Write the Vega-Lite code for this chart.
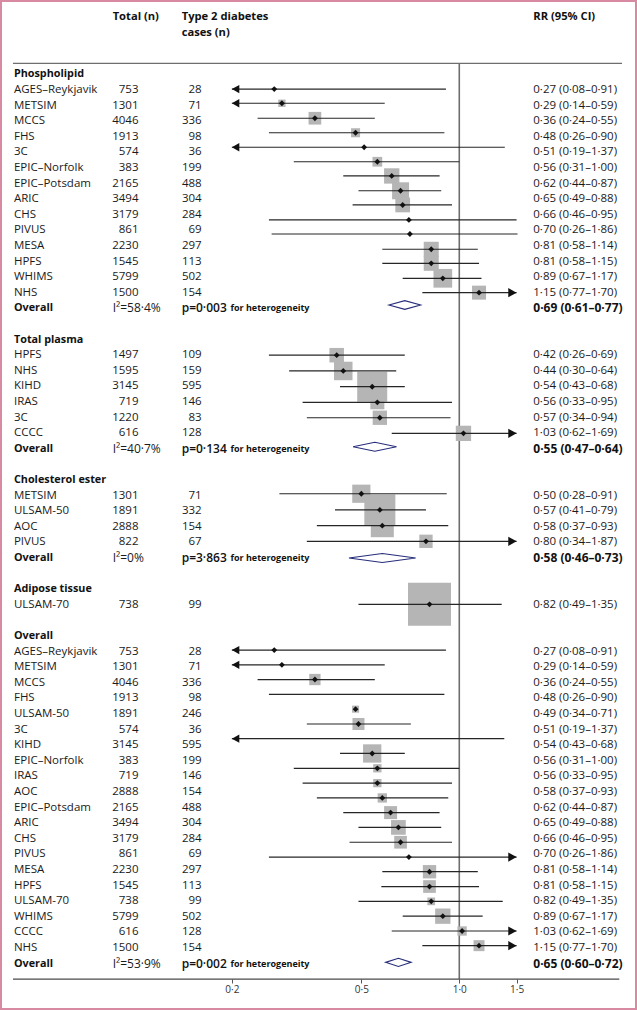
{
"$schema": "https://vega.github.io/schema/vega-lite/v6.json",
"width": 637, "height": 1010,
"autosize": {"type": "none"},
"padding": 0,
"background": "white",
"config": {"view": {"stroke": "#d98aa3", "strokeWidth": 4}, "font": "Open Sans", "axisX": {"grid": false, "domain": false}},
"datasets": {
"table": [
{"row":0,"t":"sec","name":"Phospholipid"},
{"row":1,"t":"study","name":"AGES–Reykjavik","total":"753","cases":"28","rr":"0·27 (0·08–0·91)"},
{"row":2,"t":"study","name":"METSIM","total":"1301","cases":"71","rr":"0·29 (0·14–0·59)"},
{"row":3,"t":"study","name":"MCCS","total":"4046","cases":"336","rr":"0·36 (0·24–0·55)"},
{"row":4,"t":"study","name":"FHS","total":"1913","cases":"98","rr":"0·48 (0·26–0·90)"},
{"row":5,"t":"study","name":"3C","total":"574","cases":"36","rr":"0·51 (0·19–1·37)"},
{"row":6,"t":"study","name":"EPIC–Norfolk","total":"383","cases":"199","rr":"0·56 (0·31–1·00)"},
{"row":7,"t":"study","name":"EPIC–Potsdam","total":"2165","cases":"488","rr":"0·62 (0·44–0·87)"},
{"row":8,"t":"study","name":"ARIC","total":"3494","cases":"304","rr":"0·65 (0·49–0·88)"},
{"row":9,"t":"study","name":"CHS","total":"3179","cases":"284","rr":"0·66 (0·46–0·95)"},
{"row":10,"t":"study","name":"PIVUS","total":"861","cases":"69","rr":"0·70 (0·26–1·86)"},
{"row":11,"t":"study","name":"MESA","total":"2230","cases":"297","rr":"0·81 (0·58–1·14)"},
{"row":12,"t":"study","name":"HPFS","total":"1545","cases":"113","rr":"0·81 (0·58–1·15)"},
{"row":13,"t":"study","name":"WHIMS","total":"5799","cases":"502","rr":"0·89 (0·67–1·17)"},
{"row":14,"t":"study","name":"NHS","total":"1500","cases":"154","rr":"1·15 (0·77–1·70)"},
{"row":15,"t":"pool","name":"Overall","i2":"I²=58·4%","p":"p=0·003","rr":"0·69 (0·61–0·77)"},
{"row":17,"t":"sec","name":"Total plasma"},
{"row":18,"t":"study","name":"HPFS","total":"1497","cases":"109","rr":"0·42 (0·26–0·69)"},
{"row":19,"t":"study","name":"NHS","total":"1595","cases":"159","rr":"0·44 (0·30–0·64)"},
{"row":20,"t":"study","name":"KIHD","total":"3145","cases":"595","rr":"0·54 (0·43–0·68)"},
{"row":21,"t":"study","name":"IRAS","total":"719","cases":"146","rr":"0·56 (0·33–0·95)"},
{"row":22,"t":"study","name":"3C","total":"1220","cases":"83","rr":"0·57 (0·34–0·94)"},
{"row":23,"t":"study","name":"CCCC","total":"616","cases":"128","rr":"1·03 (0·62–1·69)"},
{"row":24,"t":"pool","name":"Overall","i2":"I²=40·7%","p":"p=0·134","rr":"0·55 (0·47–0·64)"},
{"row":26,"t":"sec","name":"Cholesterol ester"},
{"row":27,"t":"study","name":"METSIM","total":"1301","cases":"71","rr":"0·50 (0·28–0·91)"},
{"row":28,"t":"study","name":"ULSAM-50","total":"1891","cases":"332","rr":"0·57 (0·41–0·79)"},
{"row":29,"t":"study","name":"AOC","total":"2888","cases":"154","rr":"0·58 (0·37–0·93)"},
{"row":30,"t":"study","name":"PIVUS","total":"822","cases":"67","rr":"0·80 (0·34–1·87)"},
{"row":31,"t":"pool","name":"Overall","i2":"I²=0%","p":"p=3·863","rr":"0·58 (0·46–0·73)"},
{"row":33,"t":"sec","name":"Adipose tissue"},
{"row":34,"t":"study","name":"ULSAM-70","total":"738","cases":"99","rr":"0·82 (0·49–1·35)"},
{"row":36,"t":"sec","name":"Overall"},
{"row":37,"t":"study","name":"AGES–Reykjavik","total":"753","cases":"28","rr":"0·27 (0·08–0·91)"},
{"row":38,"t":"study","name":"METSIM","total":"1301","cases":"71","rr":"0·29 (0·14–0·59)"},
{"row":39,"t":"study","name":"MCCS","total":"4046","cases":"336","rr":"0·36 (0·24–0·55)"},
{"row":40,"t":"study","name":"FHS","total":"1913","cases":"98","rr":"0·48 (0·26–0·90)"},
{"row":41,"t":"study","name":"ULSAM-50","total":"1891","cases":"246","rr":"0·49 (0·34–0·71)"},
{"row":42,"t":"study","name":"3C","total":"574","cases":"36","rr":"0·51 (0·19–1·37)"},
{"row":43,"t":"study","name":"KIHD","total":"3145","cases":"595","rr":"0·54 (0·43–0·68)"},
{"row":44,"t":"study","name":"EPIC–Norfolk","total":"383","cases":"199","rr":"0·56 (0·31–1·00)"},
{"row":45,"t":"study","name":"IRAS","total":"719","cases":"146","rr":"0·56 (0·33–0·95)"},
{"row":46,"t":"study","name":"AOC","total":"2888","cases":"154","rr":"0·58 (0·37–0·93)"},
{"row":47,"t":"study","name":"EPIC–Potsdam","total":"2165","cases":"488","rr":"0·62 (0·44–0·87)"},
{"row":48,"t":"study","name":"ARIC","total":"3494","cases":"304","rr":"0·65 (0·49–0·88)"},
{"row":49,"t":"study","name":"CHS","total":"3179","cases":"284","rr":"0·66 (0·46–0·95)"},
{"row":50,"t":"study","name":"PIVUS","total":"861","cases":"69","rr":"0·70 (0·26–1·86)"},
{"row":51,"t":"study","name":"MESA","total":"2230","cases":"297","rr":"0·81 (0·58–1·14)"},
{"row":52,"t":"study","name":"HPFS","total":"1545","cases":"113","rr":"0·81 (0·58–1·15)"},
{"row":53,"t":"study","name":"ULSAM-70","total":"738","cases":"99","rr":"0·82 (0·49–1·35)"},
{"row":54,"t":"study","name":"WHIMS","total":"5799","cases":"502","rr":"0·89 (0·67–1·17)"},
{"row":55,"t":"study","name":"CCCC","total":"616","cases":"128","rr":"1·03 (0·62–1·69)"},
{"row":56,"t":"study","name":"NHS","total":"1500","cases":"154","rr":"1·15 (0·77–1·70)"},
{"row":57,"t":"pool","name":"Overall","i2":"I²=53·9%","p":"p=0·002","rr":"0·65 (0·60–0·72)"}
],
"plot": [
{"pos":0.94,"est":0.27,"lo":0.2,"hi":0.91,"arrow":"left"},
{"pos":1.85,"est":0.285,"lo":0.2,"hi":0.59,"arrow":"left","w":2.9},
{"pos":2.81,"est":0.36,"lo":0.24,"hi":0.55,"w":8.7},
{"pos":3.74,"est":0.48,"lo":0.26,"hi":0.9,"w":4.4},
{"pos":4.67,"est":0.51,"lo":0.2,"hi":1.38,"arrow":"left"},
{"pos":5.6,"est":0.56,"lo":0.31,"hi":1.0,"w":5.1},
{"pos":6.51,"est":0.62,"lo":0.44,"hi":0.87,"w":12.7},
{"pos":7.46,"est":0.66,"lo":0.49,"hi":0.88,"w":15.6},
{"pos":8.37,"est":0.67,"lo":0.47,"hi":0.95,"w":11.7},
{"pos":9.33,"est":0.7,"lo":0.26,"hi":1.5},
{"pos":10.23,"est":0.705,"lo":0.265,"hi":1.51},
{"pos":11.21,"est":0.82,"lo":0.58,"hi":1.14,"w":12.2},
{"pos":12.11,"est":0.82,"lo":0.58,"hi":1.15,"w":12.2},
{"pos":13.07,"est":0.89,"lo":0.67,"hi":1.17,"w":18.9},
{"pos":13.99,"est":1.15,"lo":0.77,"hi":1.5,"arrow":"right","w":10.6},
{"pos":18,"est":0.42,"lo":0.26,"hi":0.68,"w":11.4},
{"pos":19.01,"est":0.44,"lo":0.3,"hi":0.64,"w":18.5},
{"pos":20.02,"est":0.54,"lo":0.43,"hi":0.68,"w":48.7},
{"pos":21.02,"est":0.56,"lo":0.33,"hi":0.95,"w":10.6},
{"pos":22.01,"est":0.57,"lo":0.34,"hi":0.94,"w":11.1},
{"pos":23.01,"est":1.03,"lo":0.62,"hi":1.5,"arrow":"right","w":12.7},
{"pos":26.88,"est":0.5,"lo":0.28,"hi":0.915,"w":17.9},
{"pos":27.92,"est":0.57,"lo":0.415,"hi":0.79,"w":52},
{"pos":28.93,"est":0.58,"lo":0.365,"hi":0.925,"w":28.6},
{"pos":29.93,"est":0.79,"lo":0.34,"hi":1.5,"arrow":"right","w":9.6},
{"pos":33.97,"est":0.81,"lo":0.49,"hi":1.35,"w":100},
{"pos":36.9,"est":0.27,"lo":0.2,"hi":0.91,"arrow":"left"},
{"pos":37.85,"est":0.285,"lo":0.2,"hi":0.59,"arrow":"left"},
{"pos":38.79,"est":0.36,"lo":0.24,"hi":0.55,"w":6.9},
{"pos":39.74,"lo":0.26,"hi":0.9},
{"pos":40.69,"est":0.48,"w":2.7},
{"pos":41.64,"est":0.49,"lo":0.34,"hi":0.71,"w":7.8},
{"pos":42.58,"lo":0.2,"hi":1.375,"arrow":"left"},
{"pos":43.53,"est":0.54,"lo":0.43,"hi":0.68,"w":18.1},
{"pos":44.48,"est":0.56,"lo":0.31,"hi":1.0,"w":3.7},
{"pos":45.43,"est":0.56,"lo":0.33,"hi":0.95,"w":3.7},
{"pos":46.38,"est":0.58,"lo":0.365,"hi":0.925,"w":4.7},
{"pos":47.32,"est":0.615,"lo":0.44,"hi":0.87,"w":9.1},
{"pos":48.27,"est":0.65,"lo":0.49,"hi":0.88,"w":11.7},
{"pos":49.22,"est":0.66,"lo":0.46,"hi":0.95,"w":8.7},
{"pos":50.17,"est":0.7,"lo":0.26,"hi":1.5,"arrow":"right"},
{"pos":51.11,"est":0.81,"lo":0.58,"hi":1.14,"w":9.6},
{"pos":52.06,"est":0.81,"lo":0.576,"hi":1.15,"w":8.7},
{"pos":53.01,"est":0.82,"lo":0.49,"hi":1.36,"w":3.2},
{"pos":53.96,"est":0.89,"lo":0.67,"hi":1.18,"w":12.7},
{"pos":54.91,"est":1.02,"lo":0.62,"hi":1.5,"arrow":"right","w":4.7},
{"pos":55.85,"est":1.15,"lo":0.77,"hi":1.5,"arrow":"right","w":6.5}
],
"pooled": [
{"pos":14.78,"est":0.68,"sec":"Phospholipid"},
{"pos":23.87,"est":0.55,"sec":"Total plasma"},
{"pos":31.0,"est":0.58,"sec":"Cholesterol ester"},
{"pos":56.92,"est":0.65,"sec":"Overall"}
]
},
"layer": [
{"data":{"values":[{}]},"mark":{"type":"rule","color":"#6e6e6e","strokeWidth":1.6},
 "encoding":{"x":{"datum":1,"type":"quantitative","scale":{"type":"log","domain":[0.03877,3.517],"nice":false},
   "axis":{"values":[0.2,0.5,1,1.5],"offset":-31,"domain":false,"grid":false,"ticks":true,"tickSize":4,"tickWidth":1,"tickColor":"#555555","labelFontSize":10,"labelFont":"Open Sans","labelColor":"#333333","labelPadding":1,"labelFlush":false,"labelExpr":"replace(format(datum.value,'.1f'),'.','·')","title":null}},
  "y":{"datum":-0.71,"type":"quantitative","scale":{"domain":[-4.769,59.974],"nice":false,"zero":false,"reverse":true},"axis":null},
  "y2":{"datum":57.99}}},
{"data":{"values":[{}]},"mark":{"type":"rule","color":"#6e6e6e","strokeWidth":1.3},
 "encoding":{"x":{"datum":0.0425,"type":"quantitative","scale":{"type":"log","domain":[0.03877,3.517],"nice":false}},"x2":{"datum":3.163},
  "y":{"datum":-0.71,"type":"quantitative","scale":{"domain":[-4.769,59.974],"nice":false,"zero":false,"reverse":true},"axis":null}}},
{"data":{"values":[{}]},"mark":{"type":"rule","color":"#4a4a4a","strokeWidth":1.3},
 "encoding":{"x":{"datum":0.0425,"type":"quantitative","scale":{"type":"log","domain":[0.03877,3.517],"nice":false}},"x2":{"datum":3.103},
  "y":{"datum":57.99,"type":"quantitative","scale":{"domain":[-4.769,59.974],"nice":false,"zero":false,"reverse":true},"axis":null}}},
{"data":{"name":"plot"},"transform":[{"filter":"isValid(datum.w) && isValid(datum.est)"}],
 "mark":{"type":"square","color":"#b5b5b5","opacity":1,"strokeWidth":0},
 "encoding":{"x":{"field":"est","type":"quantitative","scale":{"type":"log","domain":[0.03877,3.517],"nice":false}},
  "y":{"field":"pos","type":"quantitative","scale":{"domain":[-4.769,59.974],"nice":false,"zero":false,"reverse":true},"axis":null},
  "size":{"field":"w","type":"quantitative","scale":{"type":"linear","domain":[0,100],"range":[0,1849]},"legend":null}}},
{"data":{"name":"plot"},"transform":[{"filter":"isValid(datum.lo)"}],
 "mark":{"type":"rule","color":"#262626","strokeWidth":1.2},
 "encoding":{"x":{"field":"lo","type":"quantitative","scale":{"type":"log","domain":[0.03877,3.517],"nice":false}},"x2":{"field":"hi"},
  "y":{"field":"pos","type":"quantitative","scale":{"domain":[-4.769,59.974],"nice":false,"zero":false,"reverse":true},"axis":null}}},
{"data":{"name":"plot"},"transform":[{"filter":"datum.arrow === 'left'"}],
 "mark":{"type":"point","shape":"M0,0L0.9,-0.5L0.9,0.5Z","size":276,"filled":true,"color":"#111111","opacity":1,"strokeWidth":0},
 "encoding":{"x":{"field":"lo","type":"quantitative","scale":{"type":"log","domain":[0.03877,3.517],"nice":false}},
  "y":{"field":"pos","type":"quantitative","scale":{"domain":[-4.769,59.974],"nice":false,"zero":false,"reverse":true},"axis":null}}},
{"data":{"name":"plot"},"transform":[{"filter":"datum.arrow === 'right'"}],
 "mark":{"type":"point","shape":"M0,0L-1,-0.55L-1,0.55Z","size":276,"filled":true,"color":"#111111","opacity":1,"strokeWidth":0},
 "encoding":{"x":{"field":"hi","type":"quantitative","scale":{"type":"log","domain":[0.03877,3.517],"nice":false}},
  "y":{"field":"pos","type":"quantitative","scale":{"domain":[-4.769,59.974],"nice":false,"zero":false,"reverse":true},"axis":null}}},
{"data":{"name":"plot"},"transform":[{"filter":"isValid(datum.est)"}],
 "mark":{"type":"point","shape":"diamond","size":34,"filled":true,"color":"#111111","opacity":1,"strokeWidth":0},
 "encoding":{"x":{"field":"est","type":"quantitative","scale":{"type":"log","domain":[0.03877,3.517],"nice":false}},
  "y":{"field":"pos","type":"quantitative","scale":{"domain":[-4.769,59.974],"nice":false,"zero":false,"reverse":true},"axis":null}}},
{"data":{"name":"pooled"},"transform":[{"filter":"datum.sec === 'Phospholipid'"}],
 "mark":{"type":"point","shape":"M-1,0L0,-0.274L1,0L0,0.274Z","size":1005,"filled":true,"fill":"white","stroke":"#262d7a","strokeWidth":1.1,"opacity":1},
 "encoding":{"x":{"field":"est","type":"quantitative","scale":{"type":"log","domain":[0.03877,3.517],"nice":false}},
  "y":{"field":"pos","type":"quantitative","scale":{"domain":[-4.769,59.974],"nice":false,"zero":false,"reverse":true},"axis":null}}},
{"data":{"name":"pooled"},"transform":[{"filter":"datum.sec === 'Total plasma'"}],
 "mark":{"type":"point","shape":"M-1,0L0,-0.207L1,0L0,0.207Z","size":1884,"filled":true,"fill":"white","stroke":"#262d7a","strokeWidth":1.1,"opacity":1},
 "encoding":{"x":{"field":"est","type":"quantitative","scale":{"type":"log","domain":[0.03877,3.517],"nice":false}},
  "y":{"field":"pos","type":"quantitative","scale":{"domain":[-4.769,59.974],"nice":false,"zero":false,"reverse":true},"axis":null}}},
{"data":{"name":"pooled"},"transform":[{"filter":"datum.sec === 'Cholesterol ester'"}],
 "mark":{"type":"point","shape":"M-1,0L0,-0.135L1,0L0,0.135Z","size":4449,"filled":true,"fill":"white","stroke":"#262d7a","strokeWidth":1.1,"opacity":1},
 "encoding":{"x":{"field":"est","type":"quantitative","scale":{"type":"log","domain":[0.03877,3.517],"nice":false}},
  "y":{"field":"pos","type":"quantitative","scale":{"domain":[-4.769,59.974],"nice":false,"zero":false,"reverse":true},"axis":null}}},
{"data":{"name":"pooled"},"transform":[{"filter":"datum.sec === 'Overall'"}],
 "mark":{"type":"point","shape":"M-1,0L0,-0.324L1,0L0,0.324Z","size":655,"filled":true,"fill":"white","stroke":"#262d7a","strokeWidth":1.1,"opacity":1},
 "encoding":{"x":{"field":"est","type":"quantitative","scale":{"type":"log","domain":[0.03877,3.517],"nice":false}},
  "y":{"field":"pos","type":"quantitative","scale":{"domain":[-4.769,59.974],"nice":false,"zero":false,"reverse":true},"axis":null}}},
{"data":{"name":"table"},"transform":[{"filter":"datum.t === 'sec'"}],
 "mark":{"type":"text","align":"left","baseline":"middle","font":"Open Sans","fontSize":10.8,"fontWeight":"bold","color":"#111111"},
 "encoding":{"x":{"datum":0.04279,"type":"quantitative","scale":{"type":"log","domain":[0.03877,3.517],"nice":false}},
  "y":{"field":"row","type":"quantitative","scale":{"domain":[-4.769,59.974],"nice":false,"zero":false,"reverse":true},"axis":null},
  "text":{"field":"name","type":"nominal"}}},
{"data":{"name":"table"},"transform":[{"filter":"datum.t === 'study'"}],
 "mark":{"type":"text","align":"left","baseline":"middle","font":"Open Sans","fontSize":11.5,"color":"#1a1a1a"},
 "encoding":{"x":{"datum":0.04279,"type":"quantitative","scale":{"type":"log","domain":[0.03877,3.517],"nice":false}},
  "y":{"field":"row","type":"quantitative","scale":{"domain":[-4.769,59.974],"nice":false,"zero":false,"reverse":true},"axis":null},
  "text":{"field":"name","type":"nominal"}}},
{"data":{"name":"table"},"transform":[{"filter":"datum.t === 'pool'"}],
 "mark":{"type":"text","align":"left","baseline":"middle","font":"Open Sans","fontSize":10.8,"fontWeight":"bold","color":"#111111"},
 "encoding":{"x":{"datum":0.04279,"type":"quantitative","scale":{"type":"log","domain":[0.03877,3.517],"nice":false}},
  "y":{"field":"row","type":"quantitative","scale":{"domain":[-4.769,59.974],"nice":false,"zero":false,"reverse":true},"axis":null},
  "text":{"field":"name","type":"nominal"}}},
{"data":{"name":"table"},"transform":[{"filter":"datum.t === 'study'"}],
 "mark":{"type":"text","align":"right","baseline":"middle","font":"Open Sans","fontSize":11.5,"color":"#1a1a1a"},
 "encoding":{"x":{"datum":0.10329,"type":"quantitative","scale":{"type":"log","domain":[0.03877,3.517],"nice":false}},
  "y":{"field":"row","type":"quantitative","scale":{"domain":[-4.769,59.974],"nice":false,"zero":false,"reverse":true},"axis":null},
  "text":{"field":"total","type":"nominal"}}},
{"data":{"name":"table"},"transform":[{"filter":"datum.t === 'study'"}],
 "mark":{"type":"text","align":"right","baseline":"middle","font":"Open Sans","fontSize":11.5,"color":"#1a1a1a"},
 "encoding":{"x":{"datum":0.16153,"type":"quantitative","scale":{"type":"log","domain":[0.03877,3.517],"nice":false}},
  "y":{"field":"row","type":"quantitative","scale":{"domain":[-4.769,59.974],"nice":false,"zero":false,"reverse":true},"axis":null},
  "text":{"field":"cases","type":"nominal"}}},
{"data":{"name":"table"},"transform":[{"filter":"datum.t === 'pool'"}],
 "mark":{"type":"text","align":"left","baseline":"middle","font":"Open Sans","fontSize":12,"color":"#1a1a1a"},
 "encoding":{"x":{"datum":0.08603,"type":"quantitative","scale":{"type":"log","domain":[0.03877,3.517],"nice":false}},
  "y":{"field":"row","type":"quantitative","scale":{"domain":[-4.769,59.974],"nice":false,"zero":false,"reverse":true},"axis":null},
  "text":{"field":"i2","type":"nominal"}}},
{"data":{"name":"table"},"transform":[{"filter":"datum.t === 'pool'"}],
 "mark":{"type":"text","align":"left","baseline":"middle","font":"Open Sans","fontSize":12,"fontWeight":600,"color":"#111111"},
 "encoding":{"x":{"datum":0.14023,"type":"quantitative","scale":{"type":"log","domain":[0.03877,3.517],"nice":false}},
  "y":{"field":"row","type":"quantitative","scale":{"domain":[-4.769,59.974],"nice":false,"zero":false,"reverse":true},"axis":null},
  "text":{"field":"p","type":"nominal"}}},
{"data":{"name":"table"},"transform":[{"filter":"datum.t === 'pool'"}],
 "mark":{"type":"text","align":"left","baseline":"middle","font":"Open Sans","fontSize":9,"fontWeight":"bold","color":"#111111"},
 "encoding":{"x":{"datum":0.19806,"type":"quantitative","scale":{"type":"log","domain":[0.03877,3.517],"nice":false}},
  "y":{"field":"row","type":"quantitative","scale":{"domain":[-4.769,59.974],"nice":false,"zero":false,"reverse":true},"axis":null},
  "text":{"value":"for heterogeneity"}}},
{"data":{"name":"table"},"transform":[{"filter":"datum.t === 'study'"}],
 "mark":{"type":"text","align":"left","baseline":"middle","font":"Open Sans","fontSize":11.5,"color":"#1a1a1a"},
 "encoding":{"x":{"datum":1.6883,"type":"quantitative","scale":{"type":"log","domain":[0.03877,3.517],"nice":false}},
  "y":{"field":"row","type":"quantitative","scale":{"domain":[-4.769,59.974],"nice":false,"zero":false,"reverse":true},"axis":null},
  "text":{"field":"rr","type":"nominal"}}},
{"data":{"name":"table"},"transform":[{"filter":"datum.t === 'pool'"}],
 "mark":{"type":"text","align":"left","baseline":"middle","font":"Open Sans","fontSize":12,"fontWeight":"bold","color":"#111111"},
 "encoding":{"x":{"datum":1.6883,"type":"quantitative","scale":{"type":"log","domain":[0.03877,3.517],"nice":false}},
  "y":{"field":"row","type":"quantitative","scale":{"domain":[-4.769,59.974],"nice":false,"zero":false,"reverse":true},"axis":null},
  "text":{"field":"rr","type":"nominal"}}},
{"data":{"values":[{}]},
 "mark":{"type":"text","align":"left","baseline":"middle","font":"Open Sans","fontSize":11.2,"fontWeight":"bold","color":"#111111"},
 "encoding":{"x":{"datum":0.08603,"type":"quantitative","scale":{"type":"log","domain":[0.03877,3.517],"nice":false}},
  "y":{"datum":-3.7,"type":"quantitative","scale":{"domain":[-4.769,59.974],"nice":false,"zero":false,"reverse":true},"axis":null},
  "text":{"value":"Total (n)"}}},
{"data":{"values":[{}]},
 "mark":{"type":"text","align":"left","baseline":"middle","font":"Open Sans","fontSize":11.2,"fontWeight":"bold","color":"#111111"},
 "encoding":{"x":{"datum":0.14023,"type":"quantitative","scale":{"type":"log","domain":[0.03877,3.517],"nice":false}},
  "y":{"datum":-3.7,"type":"quantitative","scale":{"domain":[-4.769,59.974],"nice":false,"zero":false,"reverse":true},"axis":null},
  "text":{"value":"Type 2 diabetes"}}},
{"data":{"values":[{}]},
 "mark":{"type":"text","align":"left","baseline":"middle","font":"Open Sans","fontSize":11.2,"fontWeight":"bold","color":"#111111"},
 "encoding":{"x":{"datum":0.14023,"type":"quantitative","scale":{"type":"log","domain":[0.03877,3.517],"nice":false}},
  "y":{"datum":-2.64,"type":"quantitative","scale":{"domain":[-4.769,59.974],"nice":false,"zero":false,"reverse":true},"axis":null},
  "text":{"value":"cases (n)"}}},
{"data":{"values":[{}]},
 "mark":{"type":"text","align":"left","baseline":"middle","font":"Open Sans","fontSize":11.2,"fontWeight":"bold","color":"#111111"},
 "encoding":{"x":{"datum":1.6883,"type":"quantitative","scale":{"type":"log","domain":[0.03877,3.517],"nice":false}},
  "y":{"datum":-3.7,"type":"quantitative","scale":{"domain":[-4.769,59.974],"nice":false,"zero":false,"reverse":true},"axis":null},
  "text":{"value":"RR (95% CI)"}}}
]
}
